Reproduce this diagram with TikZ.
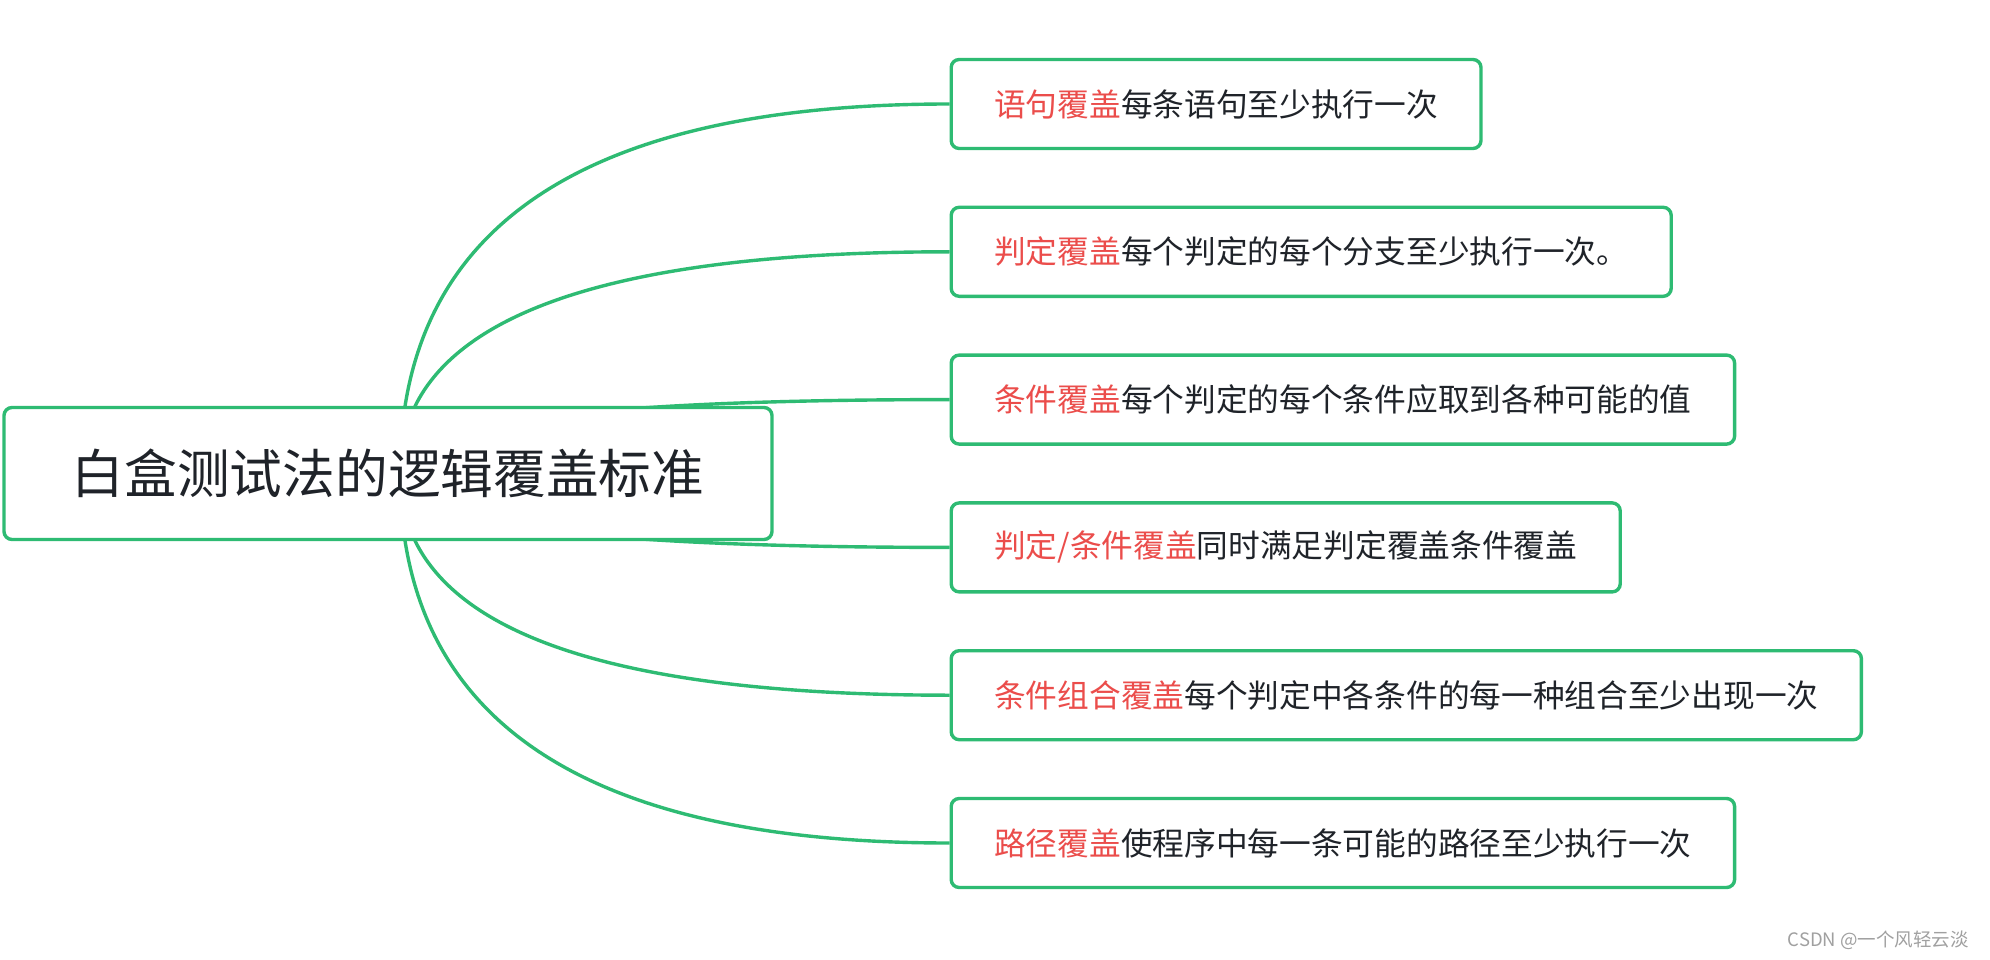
\documentclass[tikz,border=0pt]{standalone}
\usepackage{fontspec}
\setmainfont{Noto Sans CJK SC}
\usetikzlibrary{calc,backgrounds}
\definecolor{mmgreen}{RGB}{46,187,115}
\definecolor{mmred}{RGB}{235,77,75}
\definecolor{mmtext}{RGB}{31,35,41}
\definecolor{wmgrey}{RGB}{160,160,160}
\begin{document}
\begin{tikzpicture}[x=1pt,y=-1pt,
  leaf/.style={draw=mmgreen, line width=3.4pt, rounded corners=8pt, fill=white,
    anchor=west, minimum height=89pt, inner xsep=43pt, inner ysep=0pt,
    text=mmtext, font=\fontsize{31.7}{38}\selectfont},
  rootbox/.style={draw=mmgreen, line width=3.4pt, rounded corners=8pt, fill=white,
    minimum width=768pt, minimum height=132pt, inner sep=0pt,
    text=mmtext, font=\fontsize{52.7}{60}\selectfont},
  conn/.style={draw=mmgreen, line width=3.4pt},
  wm/.style={text=wmgrey, anchor=east, inner sep=0pt, font=\fontsize{18.5}{21}\selectfont}]
\useasboundingbox (0,0) rectangle (1990,960);
\node[rootbox] (root) at (388,473.5) {白盒测试法的逻辑覆盖标准};
\node[leaf] (l1) at (949.5,104) {{\color{mmred}语句覆盖}每条语句至少执行一次};
\node[leaf] (l2) at (949.5,251.8) {{\color{mmred}判定覆盖}每个判定的每个分支至少执行一次。};
\node[leaf] (l3) at (949.5,399.6) {{\color{mmred}条件覆盖}每个判定的每个条件应取到各种可能的值};
\node[leaf] (l4) at (949.5,547.4) {{\color{mmred}判定/条件覆盖}同时满足判定覆盖条件覆盖};
\node[leaf] (l5) at (949.5,695.2) {{\color{mmred}条件组合覆盖}每个判定中各条件的每一种组合至少出现一次};
\node[leaf] (l6) at (949.5,843) {{\color{mmred}路径覆盖}使程序中每一条可能的路径至少执行一次};
\node[wm] (wm) at (1969,940) {CSDN @一个风轻云淡};
\coordinate (rs) at ([xshift=12pt]root.center);
\begin{scope}[on background layer]
\foreach \l in {l1,l2,l3,l4,l5,l6}{
  \draw[conn] (rs) .. controls ($(rs)!0.6667!(rs|-\l.west)$) and ($(\l.west)!0.6667!(rs|-\l.west)$) .. (\l.west);
}
\end{scope}
\end{tikzpicture}
\end{document}
